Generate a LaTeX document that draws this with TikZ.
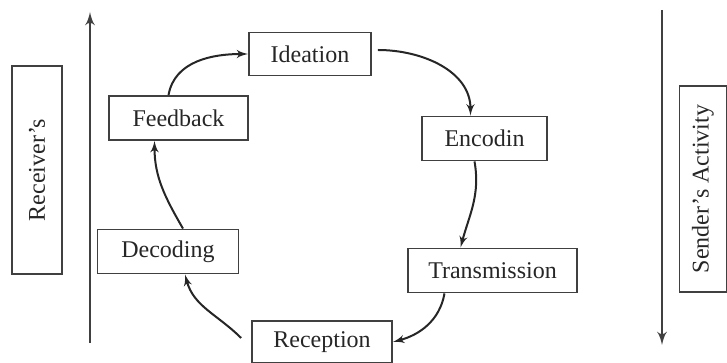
\documentclass[tikz,border=0pt]{standalone}
\usepackage{fontspec}
\setmainfont{Liberation Serif}
\usetikzlibrary{shapes,arrows}

\begin{document}
\begin{tikzpicture}[x=0.5pt, y=0.5pt, semithick, font=\fontsize{12}{14}\selectfont]
  \tikzstyle{block} = [rectangle, draw=black!75, line width=0.9pt, text=black!85,
    text centered, minimum height=22pt, inner sep=2pt]
  \tikzstyle{side} = [block, rotate=90, minimum height=25pt]
  \tikzstyle{line} = [draw=black!85, line width=1pt, -latex']
  \tikzstyle{axis} = [draw=black!75, line width=1.3pt, -latex']

  \useasboundingbox (0,0) rectangle (727,363);

  % Place nodes
  \node [side, minimum width=104pt] (receiver) at (37,193) {Receiver’s};
  \node [side, minimum width=103pt, minimum height=23.5pt] (sender) at (703,174) {Sender’s Activity};

  \node [block, minimum width=61pt, minimum height=21.5pt] (ideation) at (310,309) {Ideation};
  \node [block, minimum width=62.5pt] (encodin) at (484.5,224.5) {Encodin};
  \node [block, minimum width=84.5pt] (transmission) at (492.5,92.5) {Transmission};
  \node [block, minimum width=70pt, minimum height=21pt] (reception) at (322,21) {Reception};
  \node [block, minimum width=70.5pt] (decoding) at (168,111.5) {Decoding};
  \node [block, minimum width=69.5pt] (feedback) at (178.5,245) {Feedback};

  \coordinate (rbot) at (90,20);
  \coordinate (rtop) at (90,351);
  \coordinate (stop) at (662,353);
  \coordinate (sbot) at (662,18);

  % Draw edges
  \path [axis] (rbot) -- (rtop);
  \path [axis] (stop) -- (sbot);

  \path [line] ([xshift=-5pt]feedback.north) to[out=80, in=180] (ideation.west);
  \path [line] ([xshift=3pt,yshift=2pt]ideation.east) to[out=0, in=90] ([xshift=-7pt]encodin.north);
  \path [line] ([xshift=-5pt]encodin.south) to[out=-80, in=75] ([xshift=-16pt]transmission.south |- transmission.north);
  \path [line] ([xshift=-24pt]transmission.south) to[out=-100, in=15] (reception.east);
  \path [line] ([xshift=-5pt,yshift=2pt]reception.west) to[out=135, in=-75] ([xshift=8.5pt]decoding.south);
  \path [line] ([xshift=7.5pt]decoding.north) to[out=120, in=-90] ([xshift=-12pt]feedback.south);

\end{tikzpicture}
\end{document}
